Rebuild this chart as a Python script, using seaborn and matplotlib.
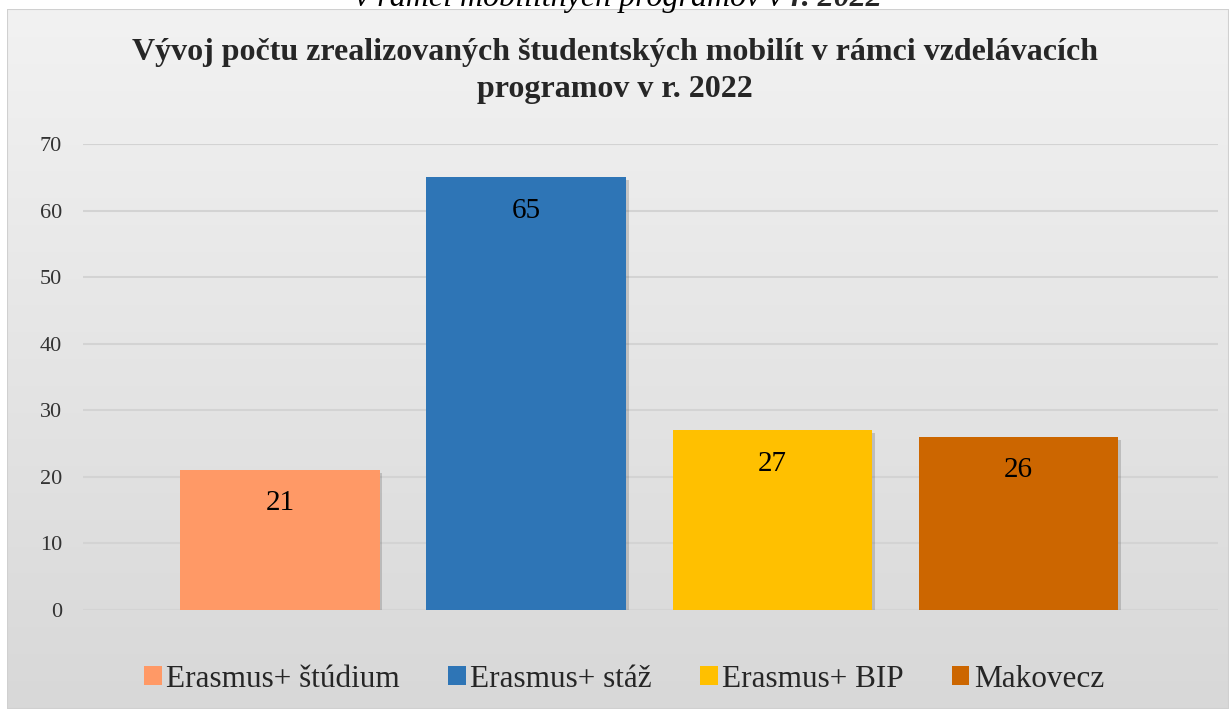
import numpy as np
import pandas as pd
import matplotlib
matplotlib.use('Agg')
import matplotlib.pyplot as plt
import matplotlib.patheffects as pe
from matplotlib.patches import Rectangle
import seaborn as sns

# data
programs = ['Erasmus+ štúdium', 'Erasmus+ stáž', 'Erasmus+ BIP', 'Makovecz']
mobilities = [21, 65, 27, 26]
bar_colors = ['#FF9966', '#2E75B6', '#FFC000', '#CC6600']
yticks = [0, 10, 20, 30, 40, 50, 60, 70]

title = 'Vývoj počtu zrealizovaných študentských mobilít v rámci vzdelávacích\nprogramov v r. 2022'
caption_above = 'v rámci mobilitných programov v '
caption_bold = 'r. 2022'

df = pd.DataFrame({'program': programs, 'count': mobilities})

sns.set_theme(style='white')
plt.rcParams['font.family'] = ['Liberation Serif', 'DejaVu Serif']

fig = plt.figure(figsize=(12.29, 7.09), dpi=100)
fig.patch.set_facecolor('white')

# chart box with vertical gradient
bg = fig.add_axes([7/1229, 0, 1 - 7/1229, 1 - 9/709], zorder=-2)
grad = np.linspace(0, 1, 256).reshape(-1, 1)
top_c = np.array([242, 242, 242]) / 255
bot_c = np.array([216, 216, 216]) / 255
img = top_c + (bot_c - top_c) * grad[:, :, None]
bg.imshow(img, aspect='auto', extent=[0, 1, 0, 1], origin='upper')
bg.add_patch(Rectangle((0, 0), 1, 1, fill=False, ec='#d0d0d0', lw=1.5,
                       transform=bg.transAxes))
bg.set_axis_off()

# caption of the page above the chart, cut off by the top edge as in the original
cap = fig.text(355/1229, 1 - 6/709, caption_above, ha='left', va='baseline',
               fontsize=23, style='italic', color='black')
fig.add_artist(plt.Annotation(caption_bold, xy=(1, 0), xycoords=cap,
                              va='bottom', ha='left', fontsize=23, style='italic',
                              fontweight='bold', annotation_clip=False))

ax = fig.add_axes([83/1229, 1 - 610/709, (1218 - 83)/1229, (610 - 144)/709])
ax.set_facecolor('none')

sns.barplot(data=df, x='program', y='count', hue='program', palette=bar_colors,
            width=0.81, saturation=1, ax=ax, legend=True, zorder=3,
            edgecolor='none', linewidth=0)

for bar in ax.patches:
    bar.set_path_effects([pe.SimplePatchShadow(offset=(2, -2), shadow_rgbFace='#555555', alpha=0.25),
                          pe.Normal()])

for i, v in enumerate(mobilities):
    ax.text(i, v - 5.0, str(v), ha='center', va='center', fontsize=21, color='black', zorder=5)

ax.set_ylim(0, 70)
ax.set_xlim(-0.8, 3.81)
ax.set_yticks(yticks)
ax.set_yticklabels([str(t) for t in yticks], fontsize=16, color='#333333')
ax.tick_params(axis='y', length=0, pad=15)
ax.set_xticks([])
ax.set_xlabel('')
ax.set_ylabel('')
ax.yaxis.grid(True, color='#d3d3d3', lw=1.5, zorder=0)
for s in ax.spines.values():
    s.set_visible(False)

sns.move_legend(ax, 'lower center', bbox_to_anchor=(0.477, -0.24), ncol=4, frameon=False,
                title=None, fontsize=22.5, handlelength=0.55, handleheight=0.55,
                handletextpad=0.15, columnspacing=1.55)

fig.text(0.5, 1 - 71/709, title, ha='center', va='center', fontsize=23,
         fontweight='bold', linespacing=1.4)

fig.savefig('out.png', dpi=100)
